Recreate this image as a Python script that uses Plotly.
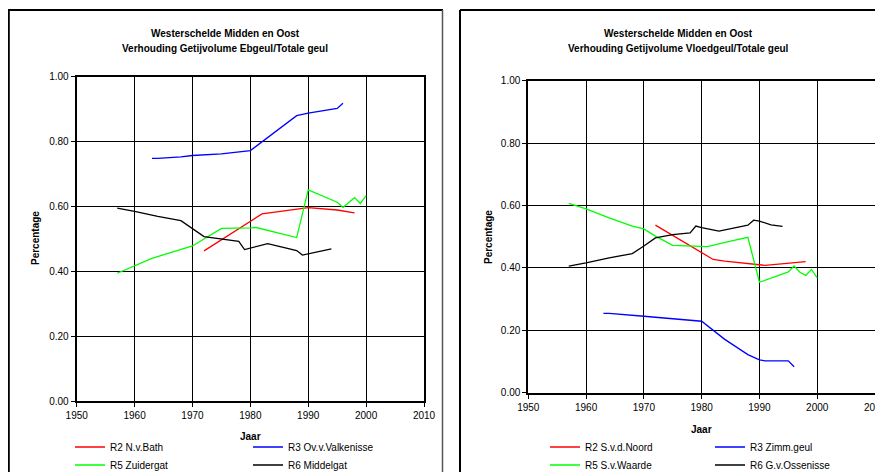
import plotly.graph_objects as go

# The page body adds an 8px margin, so the figure is 8px smaller than the
# window and all reference pixel positions are shifted by -8.
OFF = 8
W, H = 883 - OFF, 472 - OFF

# ---------------- data: left chart (Ebgeul) ----------------
bath_years = [1972, 1982, 1990, 1995, 1998]
bath_vals = [0.463, 0.577, 0.596, 0.589, 0.580]

valk_years = [1963, 1964, 1968, 1970, 1975, 1978, 1980, 1988, 1990, 1995, 1996]
valk_vals = [0.748, 0.748, 0.753, 0.757, 0.762, 0.768, 0.772, 0.880, 0.888, 0.902, 0.918]

zuid_years = [1957, 1963, 1970, 1975, 1980, 1981, 1988, 1990, 1995, 1996, 1998, 1999, 2000]
zuid_vals = [0.394, 0.440, 0.478, 0.532, 0.534, 0.535, 0.504, 0.651, 0.613, 0.597, 0.627, 0.609, 0.633]

midd_years = [1957, 1960, 1964, 1968, 1972, 1978, 1979, 1980, 1983, 1988, 1989, 1994]
midd_vals = [0.595, 0.585, 0.569, 0.556, 0.507, 0.492, 0.467, 0.471, 0.485, 0.464, 0.450, 0.469]

# ---------------- data: right chart (Vloedgeul) ----------------
noord_years = [1972, 1980, 1982, 1984, 1990, 1991, 1998]
noord_vals = [0.537, 0.448, 0.427, 0.422, 0.408, 0.408, 0.420]

zimm_years = [1963, 1964, 1970, 1975, 1980, 1984, 1988, 1990, 1991, 1995, 1996]
zimm_vals = [0.254, 0.254, 0.245, 0.237, 0.229, 0.171, 0.122, 0.105, 0.102, 0.102, 0.083]

waarde_years = [1957, 1960, 1964, 1968, 1970, 1972, 1975, 1978, 1980, 1981, 1985, 1988,
                1990, 1995, 1996, 1997, 1998, 1999, 2000]
waarde_vals = [0.607, 0.589, 0.560, 0.534, 0.525, 0.502, 0.472, 0.470, 0.467, 0.468, 0.486, 0.498,
               0.354, 0.387, 0.406, 0.386, 0.376, 0.395, 0.368]

osse_years = [1957, 1960, 1964, 1968, 1970, 1972, 1975, 1978, 1979, 1980, 1983, 1988, 1989, 1990, 1992, 1994]
osse_vals = [0.406, 0.416, 0.432, 0.446, 0.470, 0.496, 0.507, 0.512, 0.534, 0.529, 0.518, 0.537, 0.553, 0.550, 0.538, 0.533]

left_title = ["Westerschelde Midden en Oost", "Verhouding Getijvolume Ebgeul/Totale geul"]
right_title = ["Westerschelde Midden en Oost", "Verhouding Getijvolume Vloedgeul/Totale geul"]
x_title = "Jaar"
y_title = "Percentage"

FONT = "Liberation Sans, Arial, sans-serif"


def px(x):
    return (x - OFF) / W


def py(y):
    return 1 - (y - OFF) / H


fig = go.Figure()

# text start positions of legend entries (reference pixels)
series = [
    ("x", "y", bath_years, bath_vals, "R2 N.v.Bath", "#FF0000", "legend", (111, 447)),
    ("x", "y", valk_years, valk_vals, "R3 Ov.v.Valkenisse", "#0000FF", "legend2", (289, 447)),
    ("x", "y", zuid_years, zuid_vals, "R5 Zuidergat", "#00FF00", "legend3", (111, 465)),
    ("x", "y", midd_years, midd_vals, "R6 Middelgat", "#000000", "legend4", (289, 465)),
    ("x2", "y2", noord_years, noord_vals, "R2 S.v.d.Noord", "#FF0000", "legend5", (586, 447)),
    ("x2", "y2", zimm_years, zimm_vals, "R3 Zimm.geul", "#0000FF", "legend6", (751, 447)),
    ("x2", "y2", waarde_years, waarde_vals, "R5 S.v.Waarde", "#00FF00", "legend7", (586, 465)),
    ("x2", "y2", osse_years, osse_vals, "R6 G.v.Ossenisse", "#000000", "legend8", (751, 465)),
]

legend_layouts = {}
for xa, ya, xs, ys, name, color, leg, (lx, ly) in series:
    fig.add_trace(go.Scatter(x=xs, y=ys, mode="lines", name=name, xaxis=xa, yaxis=ya,
                             line=dict(color=color, width=1.3), legend=leg))
    legend_layouts[leg] = dict(x=px(lx - 41), y=py(ly), xanchor="left", yanchor="middle",
                               xref="container", yref="container",
                               bgcolor="rgba(0,0,0,0)", borderwidth=0, itemwidth=30,
                               font=dict(family=FONT, size=10, color="#000"),
                               tracegroupgap=0)

axis_common = dict(showline=True, linecolor="black", linewidth=2, mirror=True,
                   showgrid=True, gridcolor="black", gridwidth=1, zeroline=False,
                   ticks="outside", ticklen=4, tickcolor="black", tickwidth=1,
                   automargin=False, ticklabeloverflow="allow",
                   tickfont=dict(family=FONT, size=10, color="#000"))

fig.update_layout(
    width=W, height=H,
    margin=dict(l=0, r=0, t=0, b=0, pad=0, autoexpand=False),
    paper_bgcolor="white", plot_bgcolor="white",
    showlegend=True,
    xaxis=dict(domain=[px(76.7), px(424)], range=[1950, 2010], dtick=10, anchor="y", **axis_common),
    yaxis=dict(domain=[py(401), py(76.7)], range=[0, 1], dtick=0.2, tickformat=".2f", anchor="x", **axis_common),
    xaxis2=dict(domain=[px(528.3), px(875)], range=[1950, 2010], dtick=10, anchor="y2", **axis_common),
    yaxis2=dict(domain=[py(392.7), py(80.7)], range=[0, 1], dtick=0.2, tickformat=".2f", anchor="x2", **axis_common),
    **legend_layouts,
)

ann_font_b = dict(family=FONT, size=10, color="#000")
annotations = [
    dict(x=px(225), y=py(34), text="<b>" + left_title[0] + "</b>"),
    dict(x=px(225), y=py(48), text="<b>" + left_title[1] + "</b>"),
    dict(x=px(678), y=py(34), text="<b>" + right_title[0] + "</b>"),
    dict(x=px(678), y=py(48), text="<b>" + right_title[1] + "</b>"),
    dict(x=px(250), y=py(436), text="<b>" + x_title + "</b>"),
    dict(x=px(701), y=py(429), text="<b>" + x_title + "</b>"),
    dict(x=px(35), y=py(238), text="<b>" + y_title + "</b>", textangle=-90),
    dict(x=px(488), y=py(237), text="<b>" + y_title + "</b>", textangle=-90),
]
for a in annotations:
    a.update(xref="paper", yref="paper", showarrow=False, xanchor="center", yanchor="middle",
             font=ann_font_b)
fig.update_layout(annotations=annotations)

# panel frames
shapes = [
    dict(type="line", x0=px(8.8), x1=px(8.8), y0=py(10), y1=py(480), line=dict(color="black", width=2)),
    dict(type="line", x0=px(8), x1=px(443), y0=py(10), y1=py(10), line=dict(color="black", width=2)),
    dict(type="line", x0=px(442.5), x1=px(442.5), y0=py(10), y1=py(480), line=dict(color="#555", width=1.5)),
    dict(type="line", x0=px(460), x1=px(460), y0=py(10), y1=py(480), line=dict(color="black", width=2)),
    dict(type="line", x0=px(460), x1=px(890), y0=py(10), y1=py(10), line=dict(color="black", width=2)),
]
for s in shapes:
    s.update(xref="paper", yref="paper")
fig.update_layout(shapes=shapes)

fig.write_html("out.html")
